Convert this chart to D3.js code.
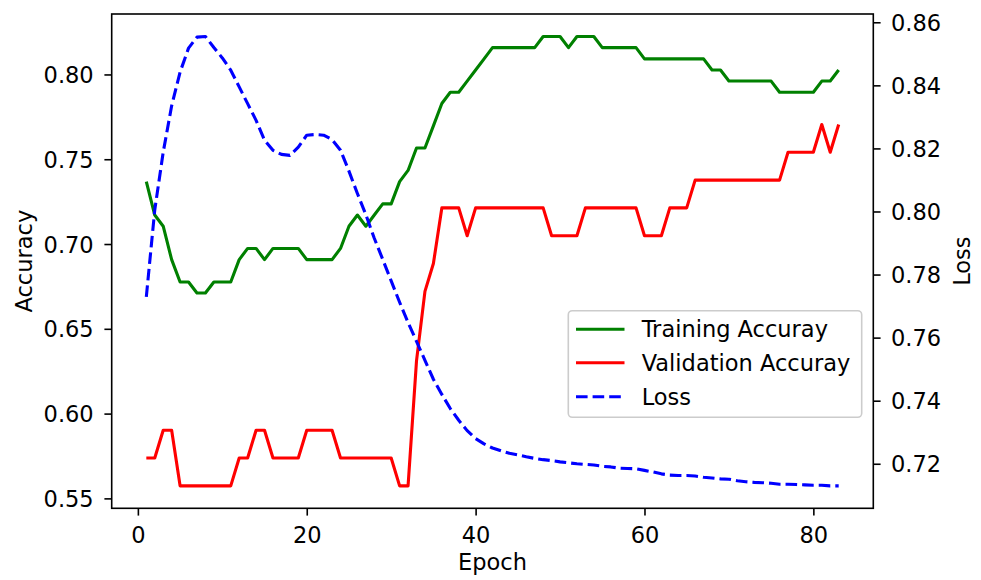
<!DOCTYPE html>
<html>
<head>
<meta charset="utf-8">
<script src="https://cdn.jsdelivr.net/npm/d3@7/dist/d3.min.js"></script>
<style>
  html, body { margin: 0; padding: 0; background: #fff; }
  svg { display: block; }
  text { font-family: "DejaVu Sans", sans-serif; fill: #000; }
</style>
</head>
<body>
<svg id="chart" width="981" height="580"></svg>
<script>
// ---- data ----
const trainingAccuracy = [
  0.7368, 0.7171, 0.7105, 0.6908, 0.6776, 0.6776, 0.6711, 0.6711, 0.6776, 0.6776,
  0.6776, 0.6908, 0.6974, 0.6974, 0.6908, 0.6974, 0.6974, 0.6974, 0.6974, 0.6908,
  0.6908, 0.6908, 0.6908, 0.6974, 0.7105, 0.7171, 0.7105, 0.7171, 0.7237, 0.7237,
  0.7368, 0.7434, 0.7566, 0.7566, 0.7697, 0.7829, 0.7895, 0.7895, 0.7961, 0.8026,
  0.8092, 0.8158, 0.8158, 0.8158, 0.8158, 0.8158, 0.8158, 0.8224, 0.8224, 0.8224,
  0.8158, 0.8224, 0.8224, 0.8224, 0.8158, 0.8158, 0.8158, 0.8158, 0.8158, 0.8092,
  0.8092, 0.8092, 0.8092, 0.8092, 0.8092, 0.8092, 0.8092, 0.8026, 0.8026, 0.7961,
  0.7961, 0.7961, 0.7961, 0.7961, 0.7961, 0.7895, 0.7895, 0.7895, 0.7895, 0.7895,
  0.7961, 0.7961, 0.8026
];
const validationAccuracy = [
  0.5738, 0.5738, 0.5902, 0.5902, 0.5574, 0.5574, 0.5574, 0.5574, 0.5574, 0.5574,
  0.5574, 0.5738, 0.5738, 0.5902, 0.5902, 0.5738, 0.5738, 0.5738, 0.5738, 0.5902,
  0.5902, 0.5902, 0.5902, 0.5738, 0.5738, 0.5738, 0.5738, 0.5738, 0.5738, 0.5738,
  0.5574, 0.5574, 0.6311, 0.6721, 0.6885, 0.7213, 0.7213, 0.7213, 0.7049, 0.7213,
  0.7213, 0.7213, 0.7213, 0.7213, 0.7213, 0.7213, 0.7213, 0.7213, 0.7049, 0.7049,
  0.7049, 0.7049, 0.7213, 0.7213, 0.7213, 0.7213, 0.7213, 0.7213, 0.7213, 0.7049,
  0.7049, 0.7049, 0.7213, 0.7213, 0.7213, 0.7377, 0.7377, 0.7377, 0.7377, 0.7377,
  0.7377, 0.7377, 0.7377, 0.7377, 0.7377, 0.7377, 0.7541, 0.7541, 0.7541, 0.7541,
  0.7705, 0.7541, 0.7705
];
const lossValues = [
  0.7729, 0.8005, 0.8188, 0.8335, 0.8442, 0.8518, 0.8553, 0.8555, 0.8520, 0.8487,
  0.8448, 0.8395, 0.8342, 0.8289, 0.8226, 0.8194, 0.8181, 0.8178, 0.8204, 0.8242,
  0.8244, 0.8242, 0.8228, 0.8194, 0.8128, 0.8057, 0.7990, 0.7915, 0.7848, 0.7780,
  0.7712, 0.7648, 0.7588, 0.7528, 0.7468, 0.7420, 0.7375, 0.7338, 0.7305, 0.7280,
  0.7263, 0.7250, 0.7241, 0.7233, 0.7228, 0.7222, 0.7217, 0.7213, 0.7210, 0.7206,
  0.7203, 0.7200, 0.7198, 0.7196, 0.7192, 0.7190, 0.7186, 0.7185, 0.7184, 0.7179,
  0.7174, 0.7168, 0.7164, 0.7163, 0.7163, 0.7161, 0.7157, 0.7155, 0.7152, 0.7151,
  0.7146, 0.7143, 0.7141, 0.7140, 0.7138, 0.7135, 0.7135, 0.7134, 0.7133, 0.7132,
  0.7132, 0.7130, 0.7130
];
const epochs = trainingAccuracy.map((_, i) => i + 1);
const xTicks = [0, 20, 40, 60, 80];
const accTicks = [0.55, 0.60, 0.65, 0.70, 0.75, 0.80];
const lossTicks = [0.72, 0.74, 0.76, 0.78, 0.80, 0.82, 0.84, 0.86];
const seriesNames = ["Training Accuray", "Validation Accuray", "Loss"];
const axisLabels = { x: "Epoch", left: "Accuracy", right: "Loss" };

// ---- layout ----
const L = 111.7, R = 873.3, T = 14, B = 508.3;
const FS = 22.5;
const tickLen = 7.3;

function padded(ext) {
  const m = (ext[1] - ext[0]) * 0.05;
  return [ext[0] - m, ext[1] + m];
}

const x = d3.scaleLinear().domain(padded(d3.extent(epochs))).range([L, R]);
const accExt = d3.extent(trainingAccuracy.concat(validationAccuracy));
const yAcc = d3.scaleLinear().domain(padded(accExt)).range([B, T]);
const yLoss = d3.scaleLinear().domain(padded(d3.extent(lossValues))).range([B, T]);

const svg = d3.select("#chart");
svg.append("rect").attr("width", 981).attr("height", 580).attr("fill", "#fff");

svg.append("clipPath").attr("id", "plotclip")
  .append("rect").attr("x", L).attr("y", T).attr("width", R - L).attr("height", B - T);

const plot = svg.append("g").attr("clip-path", "url(#plotclip)");

const lineAcc = arr => d3.line().x((d, i) => x(epochs[i])).y(d => yAcc(d))(arr);
const lineLoss = d3.line().x((d, i) => x(epochs[i])).y(d => yLoss(d));

plot.append("path").attr("d", lineAcc(trainingAccuracy))
  .attr("fill", "none").attr("stroke", "green").attr("stroke-width", 3.1)
  .attr("stroke-linejoin", "round").attr("stroke-linecap", "butt");
plot.append("path").attr("d", lineAcc(validationAccuracy))
  .attr("fill", "none").attr("stroke", "red").attr("stroke-width", 3.1)
  .attr("stroke-linejoin", "round").attr("stroke-linecap", "butt");
plot.append("path").attr("d", lineLoss(lossValues))
  .attr("fill", "none").attr("stroke", "blue").attr("stroke-width", 3.1)
  .attr("stroke-dasharray", "11.6,5").attr("stroke-linejoin", "round");

// axes
const xAxis = d3.axisBottom(x).tickValues(xTicks).tickSize(tickLen).tickPadding(7).tickFormat(d3.format("d"));
const gx = svg.append("g").attr("transform", `translate(0,${B})`).call(xAxis);
const gl = svg.append("g").attr("transform", `translate(${L},0)`)
  .call(d3.axisLeft(yAcc).tickValues(accTicks).tickSize(tickLen).tickPadding(7).tickFormat(d3.format(".2f")));
const gr = svg.append("g").attr("transform", `translate(${R},0)`)
  .call(d3.axisRight(yLoss).tickValues(lossTicks).tickSize(tickLen).tickPadding(7).tickFormat(d3.format(".2f")));

[gx, gl, gr].forEach(g => {
  g.select(".domain").remove();
  g.selectAll(".tick line").attr("stroke", "#000").attr("stroke-width", 1.6);
  g.selectAll(".tick text").attr("font-size", FS).attr("font-family", "DejaVu Sans").attr("fill", "#000");
});
gx.selectAll(".tick text").attr("dy", null).attr("y", 35);
gl.selectAll(".tick text").attr("dy", "0.36em").attr("x", -18);
gr.selectAll(".tick text").attr("dy", "0.36em").attr("x", 17.7);

// spines
svg.append("rect").attr("x", L).attr("y", T).attr("width", R - L).attr("height", B - T)
  .attr("fill", "none").attr("stroke", "#000").attr("stroke-width", 1.6);

// axis labels
svg.append("text").attr("x", (L + R) / 2).attr("y", 570).attr("text-anchor", "middle")
  .attr("font-size", FS).text(axisLabels.x);
svg.append("text").attr("transform", `translate(31.5,${(T + B) / 2}) rotate(-90)`)
  .attr("text-anchor", "middle").attr("font-size", FS).text(axisLabels.left);
svg.append("text").attr("transform", `translate(969.5,${(T + B) / 2}) rotate(-90)`)
  .attr("text-anchor", "middle").attr("font-size", FS).text(axisLabels.right);

// legend
const leg = svg.append("g");
leg.append("rect").attr("x", 568.3).attr("y", 310.7).attr("width", 293.4).attr("height", 106.6)
  .attr("rx", 4).attr("fill", "#fff").attr("fill-opacity", 0.8)
  .attr("stroke", "#cccccc").attr("stroke-width", 1.6);
const legStyles = [
  { color: "green", dash: null },
  { color: "red", dash: null },
  { color: "blue", dash: "11.6,5" }
];
const rowY = [329.3, 362.7, 396.7];
seriesNames.forEach((name, i) => {
  const ln = leg.append("line").attr("x1", 576).attr("x2", 624.5).attr("y1", rowY[i]).attr("y2", rowY[i])
    .attr("stroke", legStyles[i].color).attr("stroke-width", 3.1);
  if (legStyles[i].dash) ln.attr("stroke-dasharray", legStyles[i].dash);
  leg.append("text").attr("x", 641.7).attr("y", rowY[i]).attr("dy", "0.36em")
    .attr("font-size", FS).text(name);
});
</script>
</body>
</html>
